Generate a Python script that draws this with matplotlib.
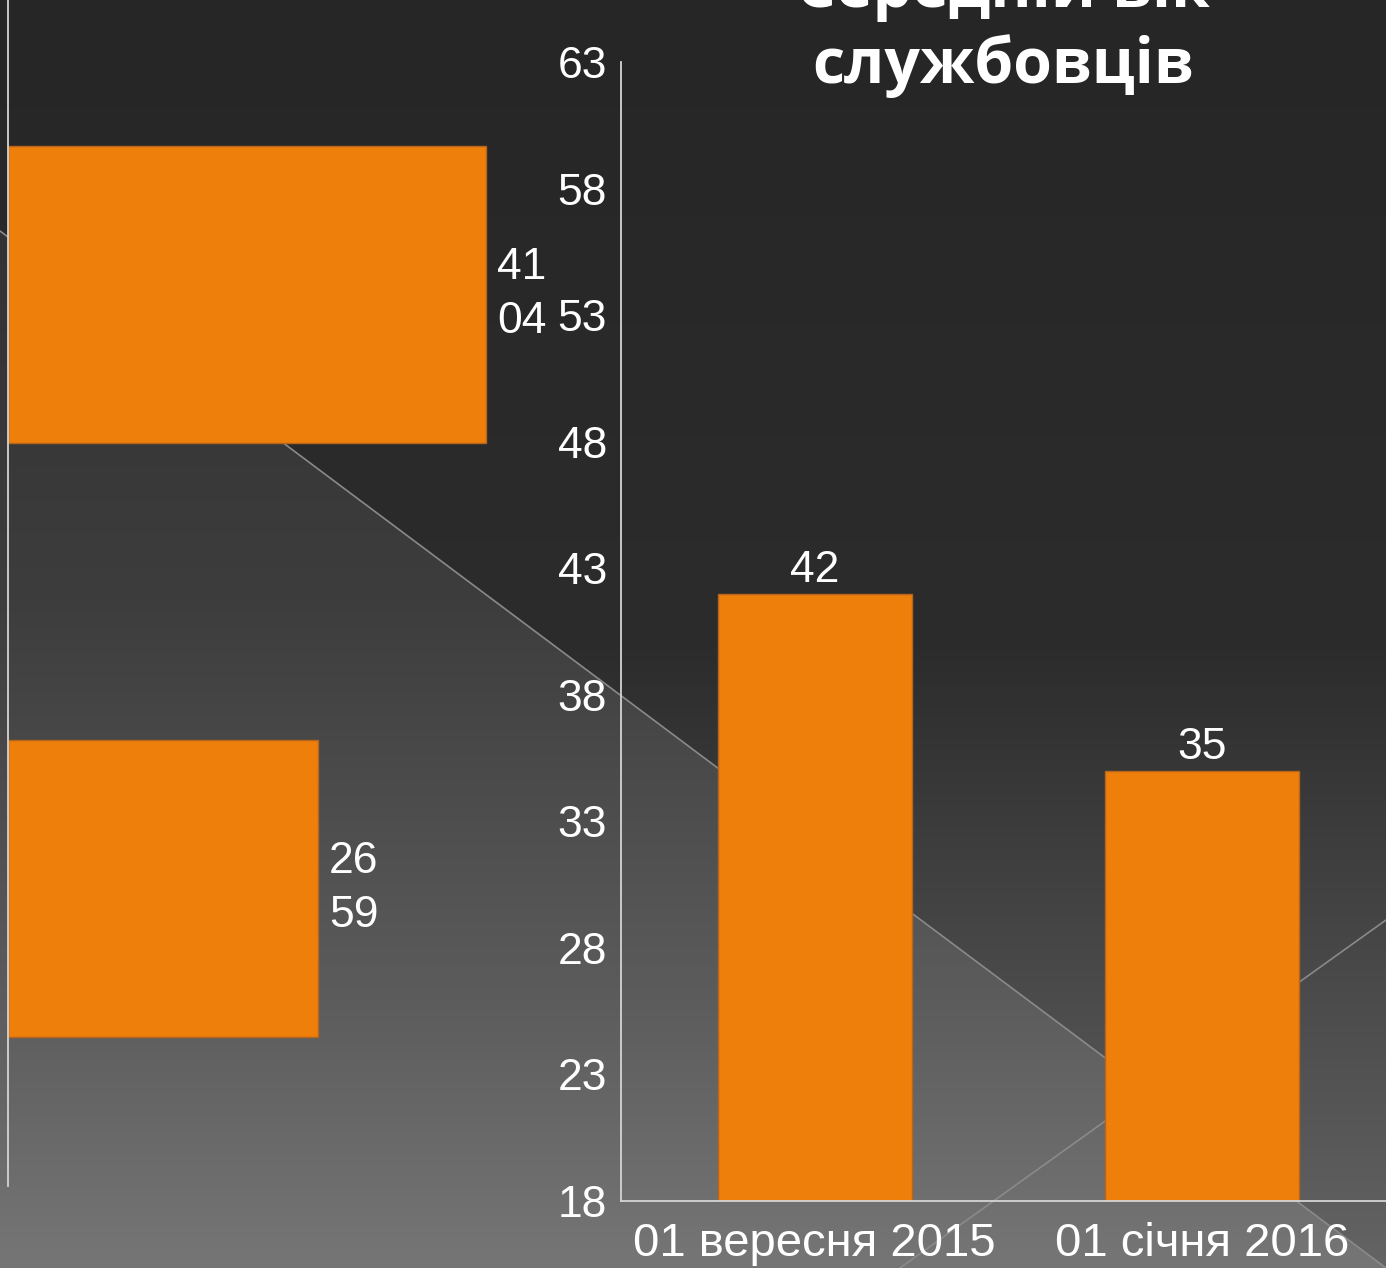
import numpy as np
import matplotlib
matplotlib.use("Agg")
import matplotlib.pyplot as plt

# ---------------- data ----------------
left_categories = ["01 вересня 2015", "01 січня 2016"]
left_values = [4104, 2659]
right_categories = ["01 вересня 2015", "01 січня 2016"]
right_values = [42, 35]
y_ticks = [18, 23, 28, 33, 38, 43, 48, 53, 58, 63]
title_line1 = "Середній вік"
title_line2 = "службовців"

# ---------------- style ----------------
W, H = 1386, 1268
DPI = 100
ORANGE = "#EF7F0B"
EDGE = "#B5651C"
TXT = "#FFFFFF"
AXC = "#D4D4D4"
plt.rcParams["font.family"] = ["Liberation Sans", "DejaVu Sans"]

fig = plt.figure(figsize=(W / DPI, H / DPI), dpi=DPI)

# background: dark gradient split by a diagonal line
bg = fig.add_axes([0, 0, 1, 1], zorder=-10)
yy, xx = np.mgrid[0:H, 0:W]
line1 = 231 + xx * (1037 / 1386)
upper = np.interp(yy, [0, 650, 1268], [38, 44, 100])
lower = np.interp(yy, [230, 600, 1000, 1268], [50, 61, 92, 118])
v = np.where(yy > line1, lower, upper) / 255.0
bg.imshow(np.dstack([v, v, v]), extent=[0, W, H, 0], aspect="auto",
          interpolation="bilinear")
bg.plot([0, W], [231, 1268], color="#8a8a8a", lw=1.2)
bg.plot([900, W], [1268, 920], color="#8a8a8a", lw=1.2)
bg.set_xlim(0, W)
bg.set_ylim(H, 0)
bg.axis("off")


def px(x0, y0, x1, y1):
    return [x0 / W, 1 - y1 / H, (x1 - x0) / W, (y1 - y0) / H]


# ---------------- left chart (horizontal bars) ----------------
axl = fig.add_axes(px(8, -2.5, 8 + 5000 * 478 / 4104, 1185.5))
axl.set_facecolor("none")
ypos = np.arange(len(left_categories))
bars_l = axl.barh(ypos, left_values, height=0.5, color=ORANGE,
                  edgecolor=EDGE, linewidth=1)
axl.set_ylim(len(left_categories) - 0.5, -0.5)
axl.set_xlim(0, 5000)
axl.set_yticks(ypos)
axl.set_yticklabels([])
axl.set_xticks([])
axl.tick_params(length=0)
for s in ["top", "right", "bottom"]:
    axl.spines[s].set_visible(False)
axl.spines["left"].set_color(AXC)
axl.spines["left"].set_linewidth(1.3)
labels_l = [f"{str(v)[:2]}\n{str(v)[2:]}" for v in left_values]
axl.bar_label(bars_l, labels=labels_l, padding=8, color=TXT, fontsize=32,
              linespacing=1.4)

# ---------------- right chart (vertical bars) ----------------
axr = fig.add_axes(px(621, 62, 1396, 1201))
axr.set_facecolor("none")
xpos = np.arange(len(right_categories))
bars_r = axr.bar(xpos, right_values, width=0.5, color=ORANGE,
                 edgecolor=EDGE, linewidth=1)
axr.set_xlim(-0.5, len(right_categories) - 0.5)
axr.set_ylim(y_ticks[0], y_ticks[-1])
axr.set_yticks(y_ticks)
axr.set_yticklabels([str(t) for t in y_ticks], fontsize=32, color=TXT)
axr.set_xticks(xpos)
axr.set_xticklabels(right_categories, fontsize=34, color=TXT)
axr.tick_params(axis="y", length=0, pad=10)
axr.tick_params(axis="x", length=0, pad=15)
for s in ["top", "right"]:
    axr.spines[s].set_visible(False)
for s in ["left", "bottom"]:
    axr.spines[s].set_color(AXC)
    axr.spines[s].set_linewidth(1.3)
axr.bar_label(bars_r, labels=[str(v) for v in right_values], padding=2,
              color=TXT, fontsize=32)

# title (cropped at the top of the picture, as in the reference)
fig.text(1003 / W, 1 - 83 / H, title_line2, ha="center", va="baseline",
         fontsize=45, fontweight="bold", color=TXT,
         family=["Open Sans", "DejaVu Sans"])
fig.text(1003 / W, 1 - 7 / H, title_line1, ha="center", va="baseline",
         fontsize=45, fontweight="bold", color=TXT,
         family=["Open Sans", "DejaVu Sans"])

fig.savefig("out.png", dpi=DPI)
